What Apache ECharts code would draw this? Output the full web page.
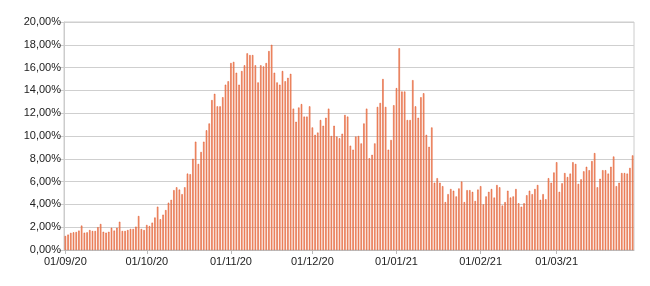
<!DOCTYPE html>
<html>
<head>
<meta charset="utf-8">
<script src="https://cdn.jsdelivr.net/npm/echarts@6/dist/echarts.min.js"></script>
<style>html,body{margin:0;padding:0;background:#fff}#c{width:650px;height:286px}</style>
</head>
<body>
<div id="c"></div>
<script>
// Daily values (%) per month, Sep 2020 - Mar 2021
const sep20 = [1.23,1.35,1.5,1.55,1.58,1.7,2.14,1.52,1.55,1.75,1.67,1.67,2.0,2.28,1.6,1.52,1.6,1.95,1.7,1.95,2.48,1.67,1.67,1.75,1.85,1.85,2.05,2.98,1.85,1.75];
const oct20 = [2.2,2.1,2.4,2.85,3.8,2.7,3.1,3.5,4.15,4.4,5.25,5.5,5.3,4.9,5.5,6.7,6.65,8.0,9.5,7.55,8.6,9.5,10.5,11.1,13.15,13.7,12.6,12.6,13.4,14.5,14.8];
const nov20 = [16.4,16.5,15.55,14.5,15.7,16.2,17.25,17.1,17.1,16.2,14.7,16.2,16.1,16.4,17.45,18.0,15.55,14.7,14.5,15.7,14.8,15.1,15.45,12.4,11.25,12.5,12.8,11.7,11.7,12.6];
const dec20 = [10.75,10.1,10.3,11.4,10.9,11.6,12.4,10.0,10.9,9.95,9.8,10.2,11.85,11.7,9.15,8.8,9.95,10.0,9.35,11.1,12.4,8.05,8.35,9.35,12.55,12.9,15.0,12.55,8.8,9.65,12.7];
const jan21 = [14.2,17.7,13.9,13.9,11.4,11.4,14.9,12.6,11.6,13.4,13.75,10.1,9.05,10.75,5.9,6.3,5.9,5.6,4.2,4.9,5.35,5.2,4.7,5.4,6.0,4.2,5.25,5.25,5.1,4.3,5.3];
const feb21 = [5.6,4.0,4.7,5.1,5.35,4.6,5.7,5.5,3.9,4.2,5.2,4.6,4.7,5.35,4.1,3.8,4.1,4.8,5.2,4.9,5.35,5.7,4.4,4.9,4.45,6.3,5.9,6.8];
const mar21 = [7.7,5.1,5.85,6.75,6.4,6.7,7.7,7.55,5.8,6.2,6.9,7.3,7.0,7.8,8.5,5.5,6.25,7.0,7.0,6.7,7.3,8.2,5.6,5.9,6.75,6.75,6.7,7.2,8.3];

const months = [
  {mm:'09', yy:'20', data:sep20},
  {mm:'10', yy:'20', data:oct20},
  {mm:'11', yy:'20', data:nov20},
  {mm:'12', yy:'20', data:dec20},
  {mm:'01', yy:'21', data:jan21},
  {mm:'02', yy:'21', data:feb21},
  {mm:'03', yy:'21', data:mar21}
];

const categories = [];
const values = [];
months.forEach(m => {
  m.data.forEach((v, i) => {
    const dd = String(i + 1).padStart(2, '0');
    categories.push(dd + '/' + m.mm + '/' + m.yy);
    values.push(v);
  });
});

const isMonthStart = (idx, val) => String(val).startsWith('01/');

const chart = echarts.init(document.getElementById('c'), null, {renderer: 'canvas'});
chart.setOption({
  animation: false,
  backgroundColor: '#ffffff',
  grid: {left: 64, right: 16, top: 22, bottom: 36, show: true, borderColor: '#cccccc', borderWidth: 1},
  xAxis: {
    type: 'category',
    data: categories,
    boundaryGap: true,
    axisLine: {show: true, lineStyle: {color: '#bbbbbb', width: 1}},
    axisTick: {show: true, interval: isMonthStart, alignWithLabel: true, length: 4, lineStyle: {color: '#bbbbbb'}},
    axisLabel: {interval: isMonthStart, color: '#222', fontFamily: 'Liberation Sans, Arial, sans-serif', fontSize: 11, margin: 6},
    splitLine: {show: false}
  },
  yAxis: {
    type: 'value',
    min: 0, max: 20, interval: 2,
    axisLine: {show: true, lineStyle: {color: '#cccccc'}},
    axisTick: {show: true, length: 5, lineStyle: {color: '#cccccc'}},
    axisLabel: {
      color: '#222', fontFamily: 'Liberation Sans, Arial, sans-serif', fontSize: 11, margin: 3,
      formatter: v => v.toFixed(2).replace('.', ',') + '%'
    },
    splitLine: {show: true, lineStyle: {color: '#cfcfcf', width: 1}}
  },
  series: [{
    type: 'bar',
    data: values,
    barCategoryGap: '48%',
    itemStyle: {color: '#f7a47e', borderColor: '#dc4a1e', borderWidth: 0.5}
  }]
});
</script>
</body>
</html>
